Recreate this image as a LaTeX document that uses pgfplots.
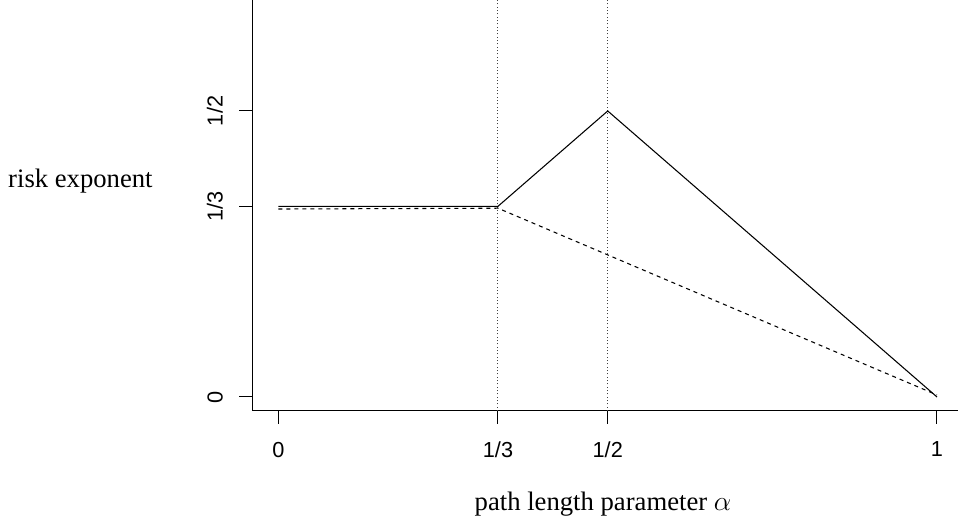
\documentclass[border=0pt]{standalone}
\usepackage{pgfplots}
\pgfplotsset{compat=1.18}
\usepackage{fontspec}
\setmainfont{Liberation Serif}
\newfontfamily\sansf{Liberation Sans}

\begin{document}
\begin{tikzpicture}
\begin{axis}[
    x=493.875pt, y=429pt,
    xmin=-0.0395, xmax=1.032,
    ymin=-0.0245, ymax=0.694,
    axis x line*=bottom,
    axis y line*=left,
    axis line style={-, line width=0.75pt},
    tick align=outside,
    major tick length=9.75pt,
    tick style={line width=0.75pt, black},
    xtick={0,0.33333,0.5,1},
    xticklabels={0,1/3,1/2,1},
    ytick={0,0.33333,0.5},
    yticklabels={0,1/3,1/2},
    ticklabel style={font=\sansf\fontsize{16.3}{19}\selectfont},
    xticklabel shift=10pt,
    yticklabel style={rotate=90, anchor=south},
    yticklabel shift=9pt,
    clip=false,
]
% vertical reference lines
\addplot[black!75, line width=0.75pt, dash pattern=on 0.75pt off 1.75pt] coordinates {(0.33333,-0.0245) (0.33333,0.694)};
\addplot[black!75, line width=0.75pt, dash pattern=on 0.75pt off 1.75pt] coordinates {(0.5,-0.0245) (0.5,0.694)};
% solid curve
\addplot[black, line width=0.8pt] coordinates {
    (0,0.33333) (0.33333,0.33333) (0.5,0.5) (1,0)
};
% dashed curve
\addplot[black, line width=0.8pt, dash pattern=on 3pt off 3pt] coordinates {
    (0,0.3286) (0.33333,0.3300) (1,0.0035)
};
\node[anchor=base west, inner sep=0pt, font=\fontsize{20}{24}\selectfont] at (axis cs:-0.4108,0.3654) {risk exponent};
\node[anchor=base, font=\fontsize{20}{24}\selectfont] at (axis cs:0.4928,-0.1993) {path length parameter $\alpha$};
\coordinate (bl) at (axis cs:-0.4229,-0.2203);
\coordinate (tr) at (axis cs:1.0319,0.694);
\end{axis}
\pgfresetboundingbox
\path[use as bounding box] (bl) rectangle (tr);
\end{tikzpicture}
\end{document}
